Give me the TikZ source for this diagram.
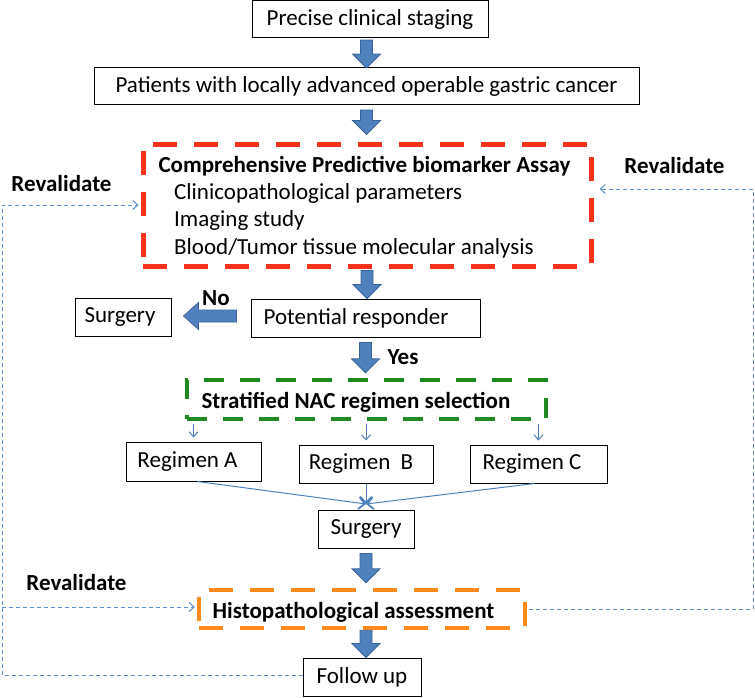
\documentclass[tikz,border=0pt]{standalone}
\usepackage{fontspec}
\setmainfont{Carlito}
\usetikzlibrary{arrows.meta,calc}
\definecolor{fatblue}{HTML}{4F81BD}
\definecolor{fatedge}{HTML}{3A6497}
\definecolor{dashred}{HTML}{F5331A}
\definecolor{dashgreen}{HTML}{1F8A1F}
\definecolor{dashorange}{HTML}{FF8A1C}
\definecolor{loopblue}{HTML}{5A8FCB}
\newcommand{\fs}{\fontsize{23}{27}\selectfont}
\newcommand{\fatdown}[2]{%
  \filldraw[fat] let \p1=#1, \p2=#2 in
    (\x1-6pt,\y1) -- (\x1+6pt,\y1) -- (\x1+6pt,\y2+14pt) -- (\x1+14pt,\y2+14pt)
    -- (\x1,\y2) -- (\x1-14pt,\y2+14pt) -- (\x1-6pt,\y2+14pt) -- cycle;}
\newcommand{\fatleft}[2]{%
  \filldraw[fat] let \p1=#1, \p2=#2 in
    (\x1,\y1-6pt) -- (\x1,\y1+6pt) -- (\x2+15pt,\y1+6pt) -- (\x2+15pt,\y1+13.5pt)
    -- (\x2,\y1) -- (\x2+15pt,\y1-13.5pt) -- (\x2+15pt,\y1-6pt) -- cycle;}
\tikzset{
  box/.style={draw=black, line width=1pt, minimum height=39, inner sep=0, font=\fs},
  txt/.style={inner sep=0, font=\fs},
  btxt/.style={inner sep=0, font=\fs\bfseries},
  fat/.style={fill=fatblue, draw=fatedge, line width=0.8pt, line join=miter},
  redbox/.style={draw=dashred, line width=5pt, dash pattern=on 24pt off 17pt},
  greenbox/.style={draw=dashgreen, line width=4.5pt, dash pattern=on 20pt off 16pt},
  orangebox/.style={draw=dashorange, line width=4.5pt, dash pattern=on 24pt off 17pt},
  thinarr/.style={draw=fatblue, line width=1pt, -{Straight Barb[length=5pt,width=9pt]}},
  convarr/.style={draw=fatblue, line width=1pt, -{Straight Barb[length=6pt,width=12pt,line width=1.8pt]}},
  loopline/.style={draw=loopblue, line width=1pt, dash pattern=on 4pt off 3pt},
  looparr/.style={loopline, -{Straight Barb[length=5pt,width=9pt]}},
}
\begin{document}
\begin{tikzpicture}[x=1pt,y=-1pt]
\useasboundingbox (0,0) rectangle (755,697);
% boxes
\node[box, minimum width=236, minimum height=37] (stage) at (370,19) {Precise clinical staging};
\node[box, minimum width=545, minimum height=37] (pat) at (366.5,86) {Patients with locally advanced operable gastric cancer};
\node[redbox, minimum width=448, minimum height=122, inner sep=0] (red) at (367,205) {};
\node[btxt] (title) at (364.5,166) {Comprehensive Predictive biomarker Assay};
\node[txt, anchor=west] (it1) at (174,193) {Clinicopathological parameters};
\node[txt, anchor=west] (it2) at (174,220) {Imaging study};
\node[txt, anchor=west] (it3) at (174,248) {Blood/Tumor tissue molecular analysis};
\node[btxt] (revr) at (674.5,166) {Revalidate};
\node[btxt] (revl) at (61.5,184) {Revalidate};
\node[btxt] (revl2) at (76.5,583) {Revalidate};
\node[box, minimum width=229, minimum height=38] (pr) at (365.5,318) {Potential responder\hspace*{19pt}};
\node[box, minimum width=96, minimum height=38] (surl) at (123,317) {Surgery\hspace*{6pt}};
\node[btxt] (no) at (216,298) {No};
\node[btxt] (yes) at (403,357) {Yes};
\node[greenbox, minimum width=359, minimum height=39, inner sep=0] (green) at (366.5,399.5) {};
\node[btxt] (gtxt) at (356,402) {Stratified NAC regimen selection};
\node[box, minimum width=135] (rega) at (193.5,461.5) {Regimen A\hspace*{12pt}};
\node[box, minimum width=134, minimum height=38] (regb) at (366,464) {Regimen\ \ B\hspace*{10pt}};
\node[box, minimum width=137, minimum height=38] (regc) at (538.5,464) {Regimen C\hspace*{13pt}};
\node[box, minimum width=96, minimum height=38] (surm) at (366,529) {Surgery};
\node[orangebox, minimum width=326, minimum height=38, inner sep=0] (orange) at (362,609) {};
\node[btxt] (otxt) at (353.5,612) {Histopathological assessment};
\node[box, minimum width=118, minimum height=38] (follow) at (362,677) {Follow up};
% fat arrows
\fatdown{($(stage.south -| pat.north)+(0,2)$)}{($(pat.north)+(0,1)$)}
\fatdown{($(pat.south)+(0,5)$)}{($(red.north)+(0,-7)$)}
\fatdown{($(red.south)+(0,2)$)}{(pr.north)}
\fatdown{($(pr.south)+(0,5)$)}{($(green.north)+(0,-5)$)}
\fatdown{($(surm.south)+(0,5)$)}{($(orange.north)+(0,-5)$)}
\fatdown{(orange.south -| surm.south)}{(follow.north -| surm.south)}
\fatleft{($(pr.west)+(-14,-2)$)}{($(surl.east)+(12,0)$)}
% thin arrows
\draw[thinarr, shorten <=3pt, shorten >=4pt] (green.south -| rega.north) -- (rega.north);
\draw[thinarr, shorten <=3pt, shorten >=4pt] (green.south -| regb.north) -- (regb.north);
\draw[thinarr, shorten <=3pt, shorten >=4pt] (green.south -| regc.north) -- (regc.north);
\coordinate (conv) at (366,504);
\draw[convarr] ($(rega.south)+(4,0)$) -- (conv);
\draw[convarr] (regb.south) -- (conv);
\draw[convarr] ($(regc.south)+(-4,0)$) -- (conv);
% revalidate loops
\coordinate (lb) at (2,675);
\coordinate (lt) at (2,205);
\coordinate (lm) at (2,607);
\coordinate (rb) at (753,609);
\coordinate (rt) at (753,189);
\draw[looparr] (follow.west |- lb) -- (lb) -- (lt) -- ($(lt -| red.west)+(-2,0)$);
\draw[looparr] (lm) -- ($(lm -| orange.west)+(-2,0)$);
\draw[looparr] ($(orange.east |- rb)+(2,0)$) -- (rb) -- (rt) -- ($(rt -| red.east)+(6,0)$);
\end{tikzpicture}
\end{document}
